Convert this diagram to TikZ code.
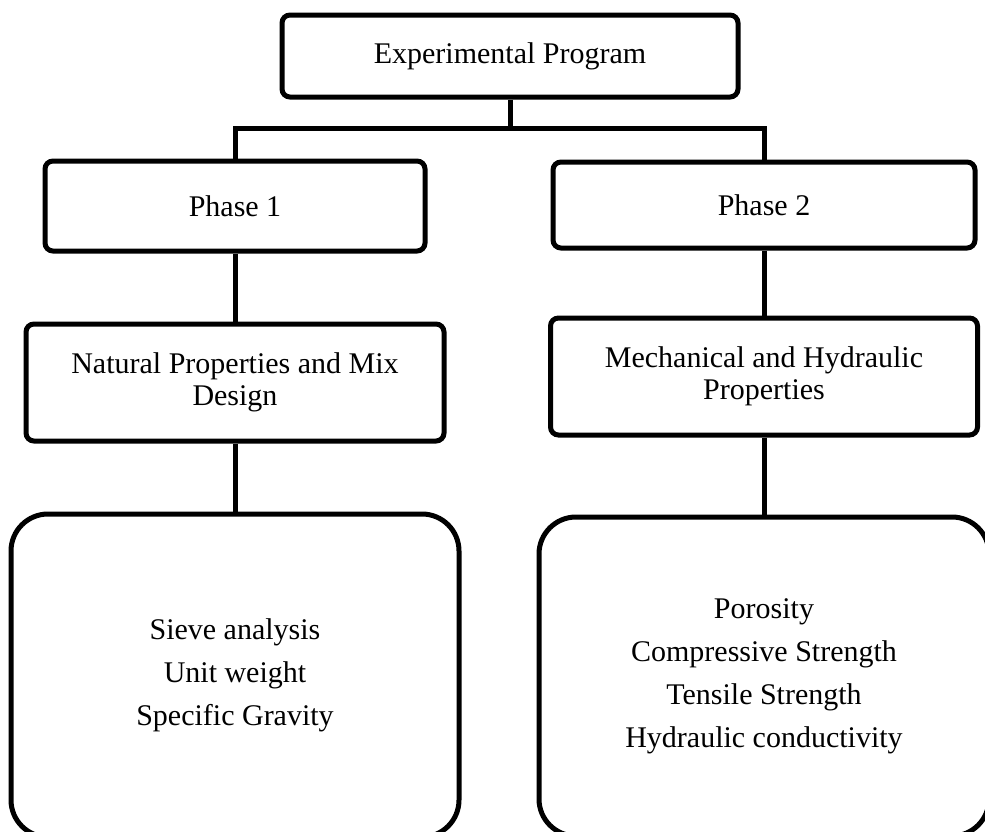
\documentclass[tikz,border=0pt]{standalone}
\usepackage{fontspec}
\setmainfont{Liberation Serif}
\usetikzlibrary{positioning}

\begin{document}
\begin{tikzpicture}[x=1pt,y=-1pt,line width=5pt,
  box/.style={draw,rounded corners=8pt,align=center,inner sep=2pt,
    font=\fontsize{30}{32}\selectfont},
  bigbox/.style={draw,rounded corners=37pt,align=center,
    font=\fontsize{30}{43}\selectfont}]

\useasboundingbox (0,0) rectangle (985,831);

\node[box,minimum width=456pt,minimum height=82pt] (prog) at (510,56) {Experimental Program};
\node[box,minimum width=380pt,minimum height=90pt] (ph1) at (235,206) {Phase 1};
\node[box,minimum width=422pt,minimum height=86pt] (ph2) at (764,205) {Phase 2};
\node[box,minimum width=418pt,minimum height=117pt,below = 68pt of ph1] (nat){Natural Properties and Mix\\Design};
\node[box,minimum width=427pt,minimum height=117pt,below = 65pt of ph2] (mech){Mechanical and Hydraulic\\Properties};
\node[bigbox,minimum width=448pt,minimum height=323pt,below = 68pt of nat] (tests1){Sieve analysis\\Unit weight\\Specific Gravity};
\node[bigbox,minimum width=450pt,minimum height=319pt,below = 77pt of mech] (tests2){Porosity\\Compressive Strength\\Tensile Strength\\Hydraulic conductivity};

%split
\coordinate (split) at (510,128);
\draw (prog.south) -- (split);
\draw (ph1.north) |- (split) -| (ph2.north);

\draw (ph1) -- (nat);
\draw (ph2) -- (mech);
\draw (nat) -- (tests1);
\draw (mech) -- (tests2);
\end{tikzpicture}
\end{document}
